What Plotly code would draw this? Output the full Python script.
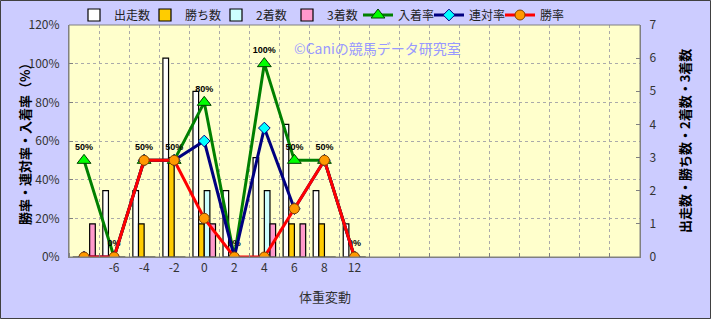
import plotly.graph_objects as go

# ---- data ----
categories = ["", "-6", "-4", "-2", "0", "2", "4", "6", "8", "12"]
n_slots = 19  # category slots on the axis (trailing slots are empty)
starts = [0, 2, 2, 6, 5, 2, 3, 4, 2, 1]        # 出走数
wins = [0, 0, 1, 3, 1, 0, 0, 1, 1, 0]          # 勝ち数
seconds = [0, 0, 0, 0, 2, 0, 2, 0, 0, 0]       # 2着数
thirds = [1, 0, 0, 0, 1, 0, 1, 1, 0, 0]        # 3着数
place_rate = [50, 0, 50, 50, 80, 0, 100, 50, 50, 0]      # 入着率
quinella_rate = [0, 0, 50, 50, 60, 0, 66.7, 25, 50, 0]   # 連対率
win_rate = [0, 0, 50, 50, 20, 0, 0, 25, 50, 0]           # 勝率

x = list(range(len(categories)))
tick_text = categories + [""] * (n_slots - len(categories))

FONT = "Noto Sans CJK JP"
fig = go.Figure()

bar_specs = [
    ("出走数", starts, "#ffffff"),
    ("勝ち数", wins, "#ffcc00"),
    ("2着数", seconds, "#ccffff"),
    ("3着数", thirds, "#ff99cc"),
]
for name, vals, col in bar_specs:
    fig.add_trace(go.Bar(
        x=x, y=vals, name=name, yaxis="y",
        marker=dict(color=col, line=dict(color="#000000", width=1.2)),
    ))

fig.add_trace(go.Scatter(
    x=x, y=place_rate, name="入着率", yaxis="y2", mode="lines+markers+text",
    line=dict(color="#008000", width=3),
    marker=dict(symbol="triangle-up", size=12, color="#00ff00",
                line=dict(color="#004000", width=1)),
    text=[f"{v:g}%" for v in place_rate],
    texttemplate="<b>%{text}</b>",
    textposition="top center",
    textfont=dict(family="Liberation Sans", size=9, color="#000000"),
))
fig.add_trace(go.Scatter(
    x=x, y=quinella_rate, name="連対率", yaxis="y2", mode="lines+markers",
    line=dict(color="#000080", width=3),
    marker=dict(symbol="diamond", size=9, color="#00ffff",
                line=dict(color="#000080", width=1)),
))
fig.add_trace(go.Scatter(
    x=x, y=win_rate, name="勝率", yaxis="y2", mode="lines+markers",
    line=dict(color="#ff0000", width=3),
    marker=dict(symbol="circle", size=10, color="#ff9900",
                line=dict(color="#804000", width=1)),
))

W, H = 711, 319
ml, mr, mt, mb = 69, 71, 25, 62
pw, ph = W - ml - mr, H - mt - mb

fig.update_layout(
    width=W, height=H,
    margin=dict(l=ml, r=mr, t=mt, b=mb, pad=0, autoexpand=False),
    paper_bgcolor="#ccccff",
    plot_bgcolor="#ffffcc",
    font=dict(family=FONT, size=12, color="#333333"),
    barmode="group", bargap=0.25, bargroupgap=0,
    showlegend=True,
    legend=dict(orientation="h", x=(74 - ml) / pw, xanchor="left",
                y=1 + (mt - 15) / ph, yanchor="middle",
                bgcolor="rgba(0,0,0,0)", font=dict(size=12, color="#222222"),
                itemwidth=30, tracegroupgap=0, entrywidth=26,
                traceorder="normal"),
    xaxis=dict(
        range=[-0.5, n_slots - 0.5],
        tickmode="array", tickvals=list(range(n_slots)), ticktext=tick_text,
        ticks="", showgrid=False, zeroline=False,
        showline=True, linecolor="#808080", linewidth=1,
        tickfont=dict(size=12, color="#333333"),
        minor=dict(tickmode="linear", tick0=0.5, dtick=1, showgrid=True,
                   gridcolor="#aaaaaa", griddash="dot", gridwidth=1,
                   ticks="inside", ticklen=4, tickcolor="#808080"),
    ),
    yaxis=dict(
        range=[0, 7], dtick=1, side="right", showgrid=False, zeroline=False,
        ticks="inside", ticklen=4, tickcolor="#808080",
        showline=True, linecolor="#808080", linewidth=1,
        tickfont=dict(size=12, color="#333333"),
        ticklabelstandoff=6,
    ),
    yaxis2=dict(
        range=[0, 120], dtick=20, ticksuffix="%", overlaying="y", side="left",
        showgrid=True, gridcolor="#aaaaaa", griddash="dot", gridwidth=1,
        zeroline=False, ticks="inside", ticklen=4, tickcolor="#808080",
        showline=True, linecolor="#808080", linewidth=1,
        tickfont=dict(size=12, color="#333333"),
        ticklabelstandoff=6,
    ),
    shapes=[
        dict(type="rect", xref="paper", yref="paper", x0=0, x1=1, y0=0, y1=1,
             line=dict(color="#808080", width=1), layer="above"),
        dict(type="rect", xref="paper", yref="paper",
             x0=(-ml + 0.5) / pw, x1=(W - ml - 0.5) / pw,
             y0=-(mb - 0.5) / ph, y1=1 + (mt - 0.5) / ph,
             line=dict(color="#404040", width=1), layer="above"),
    ],
    annotations=[
        dict(text="©Caniの競馬データ研究室", xref="paper", yref="paper",
             x=(377 - ml) / pw, y=1 - (48 - mt) / ph, showarrow=False,
             font=dict(size=14, color="#9999ff"), xanchor="center", yanchor="middle"),
        dict(text="体重変動", xref="paper", yref="paper",
             x=(325 - ml) / pw, y=-(296 - mt - ph) / ph, showarrow=False,
             font=dict(size=13, color="#333333"), xanchor="center", yanchor="middle"),
        dict(text="<b>勝率・連対率・入着率（%）</b>", xref="paper", yref="paper",
             x=(24 - ml) / pw, y=1 - (141 - mt) / ph, showarrow=False, textangle=-90,
             font=dict(size=13, color="#000000"), xanchor="center", yanchor="middle"),
        dict(text="<b>出走数・勝ち数・2着数・3着数</b>", xref="paper", yref="paper",
             x=(684 - ml) / pw, y=1 - (141 - mt) / ph, showarrow=False, textangle=-90,
             font=dict(size=13, color="#000000"), xanchor="center", yanchor="middle"),
    ],
)

fig.write_html("out.html")
